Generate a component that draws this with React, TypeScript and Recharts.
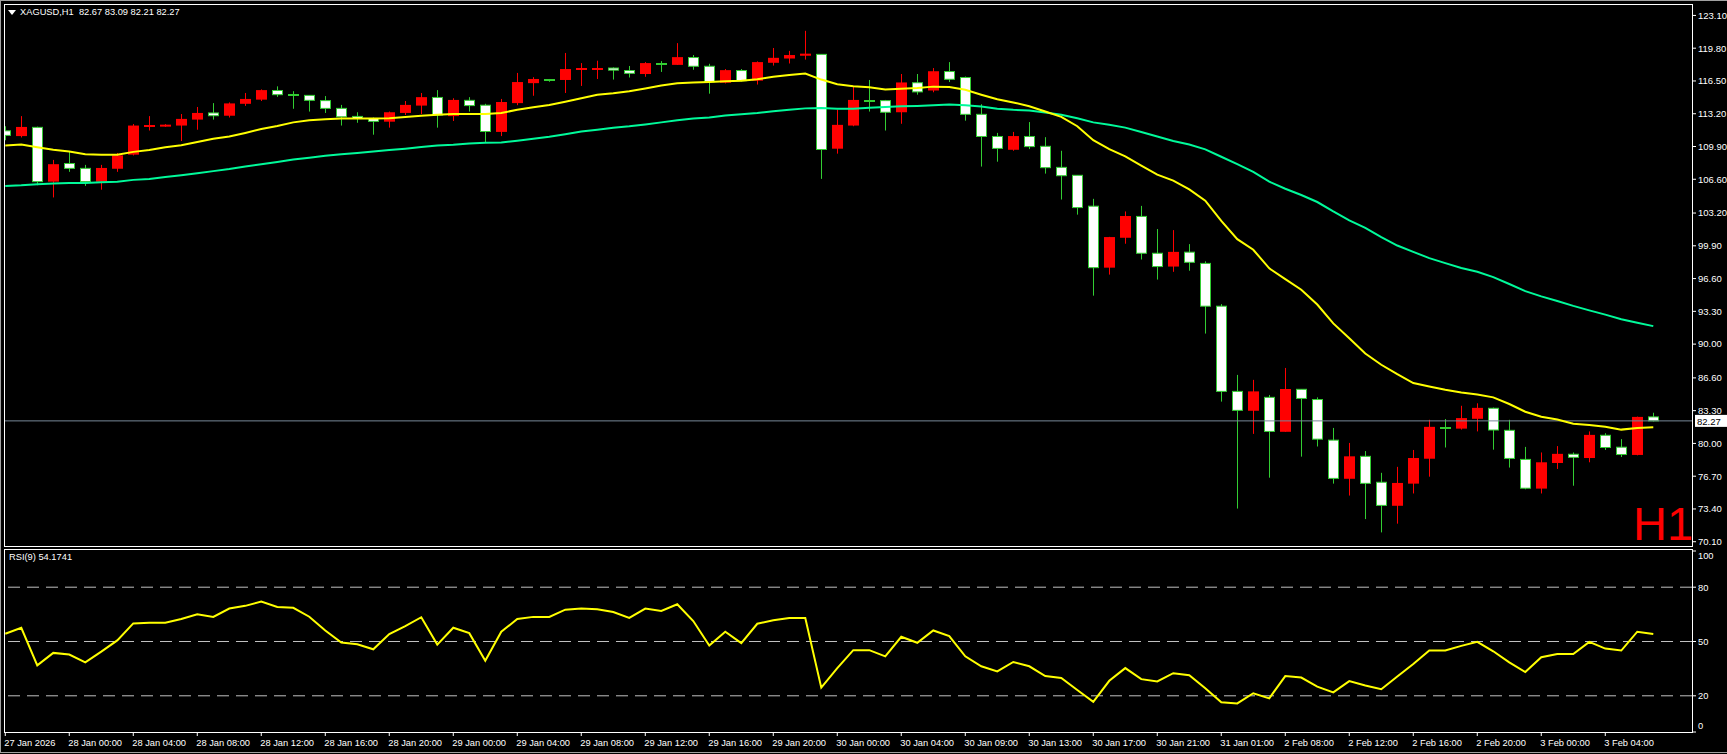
import React from "react";
import { ComposedChart, Bar, Line, XAxis, YAxis, ReferenceLine } from "recharts";

// XAGUSD H1 candles (index 0 = 27 Jan 20:00)
const opens = [
  111.48, 110.95, 111.83, 106.36, 108.19, 107.7, 106.36, 107.66, 109.08, 111.98,
  111.9, 112.01, 112.61, 113.28, 113.0, 114.2, 114.62, 115.54, 115.12, 115.05,
  114.52, 113.74, 112.93, 112.72, 112.4, 113.28, 114.02, 114.84, 112.96, 114.55,
  114.06, 111.37, 114.27, 116.28, 116.56, 116.6, 117.7, 117.72, 117.8, 117.55,
  117.2, 118.23, 118.12, 118.86, 117.98, 116.32, 117.55, 116.53, 118.33, 118.76,
  119.04, 119.18, 109.68, 112.01, 114.52, 114.52, 113.35, 116.32, 115.54, 117.45,
  116.85, 113.14, 110.91, 109.57, 110.91, 109.92, 107.8, 107.0, 103.89, 97.7,
  100.71, 102.86, 99.15, 97.81, 99.26, 98.13, 93.82, 85.24, 83.29, 84.64,
  81.17, 85.45, 84.42, 80.33, 76.44, 78.7, 76.09, 73.72, 75.95, 78.46,
  81.6, 81.49, 82.48, 83.54, 81.32, 78.39, 75.45, 78.03, 78.91, 78.53,
  80.82, 79.62, 78.84, 82.67,
];
const highs = [
  111.94, 112.96, 111.9, 108.55, 109.36, 108.05, 108.05, 109.25, 112.16, 112.96,
  112.15, 113.17, 113.88, 114.27, 114.34, 115.29, 115.65, 115.96, 115.47, 115.05,
  114.98, 114.09, 113.35, 112.82, 113.42, 114.48, 115.29, 115.58, 114.76, 114.87,
  114.2, 114.69, 117.31, 116.88, 116.7, 119.32, 118.3, 118.54, 117.87, 118.01,
  118.4, 118.5, 120.31, 119.11, 118.23, 117.7, 117.7, 118.47, 119.82, 119.53,
  121.55, 119.2, 113.6, 115.93, 116.6, 114.59, 117.2, 117.2, 117.8, 118.4,
  116.95, 114.16, 111.27, 111.37, 112.36, 110.84, 109.47, 107.0, 104.63, 100.8,
  103.36, 103.92, 101.59, 101.48, 100.07, 98.34, 94.03, 86.9, 86.4, 84.88,
  87.6, 85.45, 84.64, 81.56, 80.05, 79.23, 77.04, 77.64, 79.34, 82.38,
  82.45, 83.79, 84.04, 83.61, 82.38, 79.65, 79.09, 79.73, 79.09, 81.21,
  81.03, 80.43, 82.7, 83.09,
];
const lows = [
  110.53, 110.81, 106.0, 104.77, 107.35, 105.93, 105.55, 107.35, 109.0, 111.51,
  111.88, 110.45, 111.59, 112.61, 112.82, 113.99, 114.48, 114.9, 113.7, 113.42,
  113.28, 112.01, 112.29, 111.09, 111.8, 113.07, 113.17, 111.8, 112.47, 113.42,
  110.28, 110.95, 114.06, 115.01, 116.42, 115.29, 116.0, 116.7, 116.64, 116.85,
  116.92, 117.41, 118.12, 117.63, 115.22, 116.25, 116.46, 116.14, 118.05, 118.26,
  118.65, 106.64, 109.18, 111.94, 113.42, 111.51, 112.19, 115.12, 115.36, 116.39,
  112.5, 107.88, 108.37, 109.47, 109.64, 107.17, 104.56, 103.04, 94.88, 97.0,
  100.11, 98.52, 96.5, 97.28, 97.39, 91.06, 84.21, 73.44, 80.96, 76.55,
  81.17, 78.67, 79.69, 75.95, 74.75, 72.38, 71.04, 71.92, 74.96, 76.65,
  79.59, 81.39, 81.21, 79.37, 77.57, 75.38, 74.96, 77.43, 75.74, 78.1,
  79.34, 78.63, 78.8, 82.21,
];
const closes = [
  111.02, 111.87, 106.36, 108.12, 107.7, 106.36, 107.74, 109.01, 112.01, 112.02,
  112.1, 112.68, 113.28, 113.0, 114.24, 114.69, 115.58, 115.12, 115.1, 114.55,
  113.74, 112.89, 112.72, 112.43, 113.35, 114.09, 114.87, 113.07, 114.59, 114.02,
  111.41, 114.38, 116.39, 116.7, 116.54, 117.7, 117.75, 117.74, 117.59, 117.27,
  118.3, 118.22, 118.9, 117.98, 116.42, 117.59, 116.53, 118.4, 118.83, 119.11,
  119.25, 109.6, 112.08, 114.59, 114.5, 113.35, 116.35, 115.4, 117.48, 116.67,
  113.14, 110.91, 109.71, 110.95, 109.89, 107.77, 106.96, 103.75, 97.7, 100.78,
  102.9, 99.15, 97.81, 99.29, 98.24, 93.82, 85.24, 83.33, 85.24, 81.21,
  85.48, 84.53, 80.43, 76.48, 78.7, 75.98, 73.76, 76.02, 78.53, 81.67,
  81.55, 82.55, 83.58, 81.35, 78.49, 75.49, 78.1, 78.95, 78.6, 80.86,
  79.59, 78.88, 82.67, 82.27,
];

// moving averages (yellow = fast, green = slow)
const maFast = [
  110.0, 110.1, 109.82, 109.57, 109.4, 109.11, 109.08, 109.08, 109.36, 109.54,
  109.82, 110.03, 110.35, 110.67, 110.91, 111.27, 111.66, 111.97, 112.33, 112.54,
  112.65, 112.72, 112.72, 112.72, 112.75, 112.86, 113.0, 113.1, 113.17, 113.17,
  113.17, 113.28, 113.6, 113.85, 114.09, 114.41, 114.76, 115.12, 115.26, 115.47,
  115.75, 116.04, 116.28, 116.35, 116.39, 116.46, 116.53, 116.67, 116.92, 117.09,
  117.24, 116.64, 116.18, 115.97, 115.86, 115.65, 115.72, 115.79, 115.93, 115.89,
  115.61, 115.12, 114.66, 114.34, 113.95, 113.42, 112.89, 111.94, 110.53, 109.64,
  108.9, 107.98, 107.06, 106.46, 105.58, 104.45, 102.4, 100.57, 99.5, 97.63,
  96.54, 95.48, 93.99, 92.09, 90.6, 89.05, 87.92, 86.97, 86.08, 85.73,
  85.41, 85.13, 84.92, 84.64, 83.97, 83.19, 82.69, 82.41, 81.99, 81.85,
  81.67, 81.39, 81.56, 81.63,
];
const maSlow = [
  105.93, 106.0, 106.11, 106.18, 106.22, 106.22, 106.29, 106.36, 106.54, 106.64,
  106.82, 107.0, 107.2, 107.42, 107.63, 107.88, 108.12, 108.34, 108.58, 108.76,
  108.97, 109.11, 109.25, 109.4, 109.54, 109.68, 109.85, 110.0, 110.07, 110.2,
  110.28, 110.31, 110.49, 110.67, 110.88, 111.13, 111.41, 111.59, 111.8, 111.94,
  112.12, 112.33, 112.54, 112.72, 112.82, 113.03, 113.14, 113.28, 113.46, 113.6,
  113.74, 113.78, 113.71, 113.71, 113.81, 113.88, 113.95, 113.99, 114.06, 114.13,
  114.06, 113.92, 113.71, 113.6, 113.53, 113.32, 113.1, 112.75, 112.33, 112.08,
  111.8, 111.37, 110.91, 110.45, 110.1, 109.61, 108.87, 108.12, 107.35, 106.36,
  105.65, 105.02, 104.31, 103.36, 102.47, 101.7, 100.78, 99.93, 99.29, 98.66,
  98.16, 97.67, 97.28, 96.75, 96.05, 95.34, 94.81, 94.35, 93.85, 93.4,
  92.97, 92.51, 92.16, 91.81,
];

// RSI(9)
const rsiValues = [
  54.3, 57.6, 36.8, 43.7, 42.8, 38.5, 44.4, 50.6, 60.0, 60.4,
  60.4, 62.4, 65.0, 63.6, 68.2, 69.7, 72.1, 69.1, 68.6, 63.7,
  56.1, 49.4, 48.5, 45.7, 54.1, 58.5, 63.4, 48.3, 57.6, 54.6,
  39.4, 55.4, 62.4, 63.6, 63.6, 67.6, 68.2, 67.8, 66.3, 63.0,
  68.2, 66.9, 70.6, 61.3, 47.8, 55.4, 49.1, 59.8, 61.7, 63.0,
  63.0, 24.5, 35.3, 45.2, 45.2, 41.8, 52.6, 49.3, 56.1, 53.0,
  41.8, 36.3, 33.5, 38.7, 36.3, 30.9, 29.8, 23.2, 16.7, 28.3,
  35.3, 29.2, 27.9, 32.5, 31.4, 24.2, 16.4, 15.8, 21.4, 18.6,
  30.9, 30.1, 25.1, 21.9, 28.1, 25.7, 23.6, 30.7, 37.6, 45.0,
  45.0, 47.6, 49.8, 44.6, 38.5, 33.1, 41.3, 43.1, 43.1, 49.8,
  46.1, 45.0, 55.4, 54.2,
];

const timeLabels = [
  "27 Jan 2026", "28 Jan 00:00", "28 Jan 04:00", "28 Jan 08:00", "28 Jan 12:00",
  "28 Jan 16:00", "28 Jan 20:00", "29 Jan 00:00", "29 Jan 04:00", "29 Jan 08:00",
  "29 Jan 12:00", "29 Jan 16:00", "29 Jan 20:00", "30 Jan 00:00", "30 Jan 04:00",
  "30 Jan 09:00", "30 Jan 13:00", "30 Jan 17:00", "30 Jan 21:00", "31 Jan 01:00",
  "2 Feb 08:00", "2 Feb 12:00", "2 Feb 16:00", "2 Feb 20:00", "3 Feb 00:00",
  "3 Feb 04:00",
];
const barsPerLabel = 4;
const priceTicks = [70.1, 73.4, 76.7, 80.0, 83.3, 86.6, 90.0, 93.3, 96.6, 99.9, 103.2, 106.6, 109.9, 113.2, 116.5, 119.8, 123.1];
const rsiTicks = [0, 20, 50, 80, 100];
const rsiLevels = [20, 50, 80];
const bidPrice = 82.27;
const header = { symbol: "XAGUSD,H1", o: 82.67, h: 83.09, l: 82.21, c: 82.27 };
const rsiLabel = "RSI(9) 54.1741";

const data = opens.map((o, i) => ({
  i,
  open: o,
  high: highs[i],
  low: lows[i],
  close: closes[i],
  range: [lows[i], highs[i]],
  fast: maFast[i],
  slow: maSlow[i],
  rsi: rsiValues[i],
}));

const FONT = "'Liberation Sans', Arial, sans-serif";
const W = 1727;
const xDomain = [-0.08, 105.42];
const labelIdx = timeLabels.map((_, i) => i * barsPerLabel);

function Candle(props: any) {
  const { x, y, width, height, payload } = props;
  if (!payload) return null;
  const { open, close, high, low } = payload;
  const cx = Math.round(x + width / 2) + 0.5;
  const top = Math.min(y, y + height);
  const h = Math.abs(height);
  const k = h / (high - low);
  const yOf = (v: number) => top + (high - v) * k;
  const bull = close > open;
  const color = bull ? "#ff0000" : "#32cd32";
  const bTop = yOf(Math.max(open, close));
  const bBot = yOf(Math.min(open, close));
  let body;
  if (bBot - bTop < 1.5) {
    body = <rect x={cx - 5.5} y={Math.round((bTop + bBot) / 2) - 1} width={11} height={2} fill={color} />;
  } else if (bull) {
    body = <rect x={cx - 5.5} y={bTop} width={11} height={bBot - bTop} fill="#ff0000" />;
  } else {
    body = <rect x={cx - 5} y={bTop} width={10} height={bBot - bTop} fill="#ffffff" stroke="#32cd32" strokeWidth={1} />;
  }
  return (
    <g>
      <line x1={cx} x2={cx} y1={top} y2={top + h} stroke={color} strokeWidth={1} />
      {body}
    </g>
  );
}

function BidLabel(props: any) {
  const { x, y, width } = props.viewBox || {};
  const left = x + width + 3;
  return (
    <g>
      <rect x={left} y={y - 6} width={32} height={12} fill="#ffffff" />
      <text x={left + 2} y={y + 4} fontSize={9.5} fontFamily={FONT} fill="#000000">
        {bidPrice.toFixed(2)}
      </text>
    </g>
  );
}

function TimeTick(props: any) {
  const { x, y, payload } = props;
  const label = timeLabels[Math.round(payload.value / barsPerLabel)];
  return (
    <text x={x - 1} y={y + 7.5} fontSize={9.3} fontFamily={FONT} fill="#ffffff" textAnchor="start">
      {label}
    </text>
  );
}

function RsiTick(props: any) {
  const { x, y, payload } = props;
  const shift = payload.value === 100 ? 5 : payload.value === 0 ? -6 : 0;
  return (
    <text x={x} y={y + shift + 3.3} fontSize={9.3} fontFamily={FONT} fill="#ffffff" textAnchor="start">
      {payload.value}
    </text>
  );
}

export default function App() {
  return (
    <div
      style={{
        position: "absolute",
        left: 0,
        top: 0,
        width: W,
        height: 754,
        background: "#000000",
        overflow: "hidden",
        fontFamily: FONT,
      }}
    >
      {/* window edge */}
      <div style={{ position: "absolute", left: 0, top: 0, width: W, height: 753, borderTop: "1px solid #a0a0a0", borderLeft: "1px solid #a0a0a0", borderBottom: "1px solid #a0a0a0", boxSizing: "border-box" }} />

      <div style={{ position: "absolute", left: 0, top: 0 }}>
        <ComposedChart width={W} height={551} data={data} margin={{ top: 5, right: 0, bottom: 5, left: 4 }}>
          <XAxis dataKey="i" type="number" domain={xDomain} allowDataOverflow hide />
          <YAxis
            orientation="right"
            type="number"
            domain={[69.67, 124.15]}
            allowDataOverflow
            ticks={priceTicks}
            interval={0}
            width={35}
            axisLine={false}
            tickLine={{ stroke: "#ffffff" }}
            tickSize={4}
            tickMargin={2}
            tickFormatter={(v: number) => v.toFixed(2)}
            tick={{ fill: "#ffffff", fontSize: 9.5, fontFamily: FONT, textAnchor: "start" }}
          />
          <ReferenceLine y={bidPrice} stroke="#778899" strokeWidth={1} label={<BidLabel />} />
          <Bar dataKey="range" barSize={11} shape={<Candle />} isAnimationActive={false} />
          <Line type="linear" dataKey="slow" stroke="#00fa9a" strokeWidth={2} dot={false} isAnimationActive={false} />
          <Line type="linear" dataKey="fast" stroke="#ffff00" strokeWidth={2} dot={false} isAnimationActive={false} />
        </ComposedChart>
      </div>

      <div style={{ position: "absolute", left: 0, top: 545 }}>
        <ComposedChart width={W} height={209} data={data} margin={{ top: 6, right: 0, bottom: 0, left: 4 }}>
          <XAxis
            dataKey="i"
            type="number"
            domain={xDomain}
            allowDataOverflow
            ticks={labelIdx}
            interval={0}
            height={22}
            axisLine={false}
            tickLine={{ stroke: "#ffffff" }}
            tickSize={4}
            tickMargin={2}
            tick={<TimeTick />}
          />
          <YAxis
            orientation="right"
            type="number"
            domain={[0, 100]}
            allowDataOverflow
            ticks={rsiTicks}
            interval={0}
            width={35}
            axisLine={false}
            tickLine={{ stroke: "#ffffff" }}
            tickSize={4}
            tickMargin={2}
            tick={<RsiTick />}
          />
          {rsiLevels.map((lv) => (
            <ReferenceLine key={lv} y={lv} stroke="#c0c0c0" strokeDasharray="12 7" strokeWidth={1} />
          ))}
          <Line type="linear" dataKey="rsi" stroke="#ffff00" strokeWidth={2} dot={false} isAnimationActive={false} />
        </ComposedChart>
      </div>

      {/* panel frames */}
      <div style={{ position: "absolute", left: 4, top: 4, width: 1689, height: 543, border: "1px solid #ffffff", boxSizing: "border-box", pointerEvents: "none" }} />
      <div style={{ position: "absolute", left: 4, top: 549, width: 1689, height: 184, border: "1px solid #ffffff", boxSizing: "border-box", pointerEvents: "none" }} />

      {/* header */}
      <div style={{ position: "absolute", left: 8, top: 10, width: 0, height: 0, borderLeft: "4px solid transparent", borderRight: "4px solid transparent", borderTop: "5px solid #ffffff" }} />
      <div style={{ position: "absolute", left: 20, top: 6, color: "#ffffff", fontSize: 9.3, lineHeight: "13px", whiteSpace: "pre" }}>
        {`${header.symbol}  ${header.o.toFixed(2)} ${header.h.toFixed(2)} ${header.l.toFixed(2)} ${header.c.toFixed(2)}`}
      </div>
      <div style={{ position: "absolute", left: 9, top: 551, color: "#ffffff", fontSize: 9.3, lineHeight: "13px", whiteSpace: "pre" }}>
        {rsiLabel}
      </div>
      <div style={{ position: "absolute", left: 1633, top: 500, color: "#ff0000", fontSize: 47, lineHeight: "47px" }}>H1</div>
    </div>
  );
}
